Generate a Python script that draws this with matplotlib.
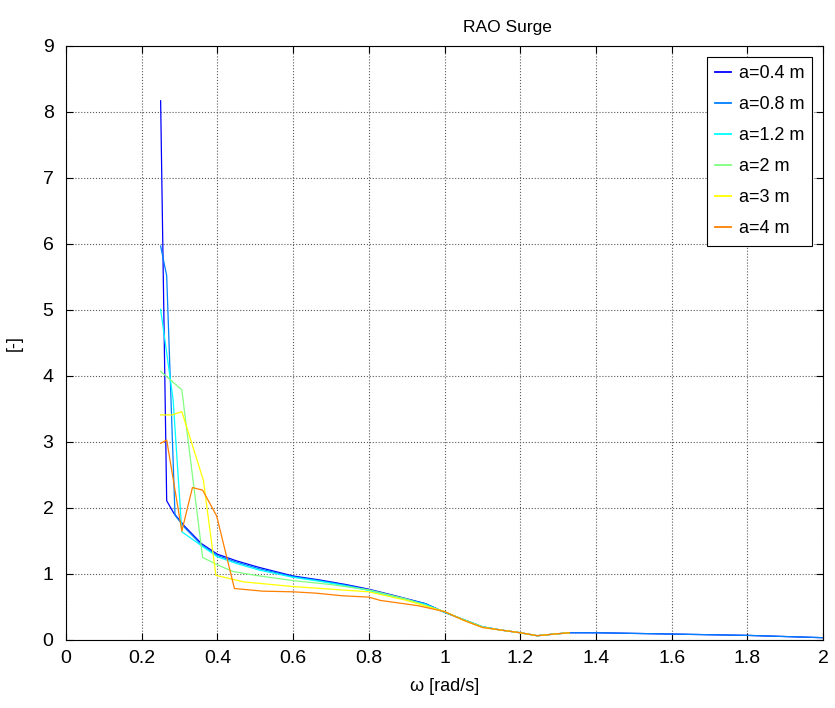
import matplotlib.pyplot as plt

plt.rcParams['font.family'] = ['Liberation Sans', 'DejaVu Sans']

# Datos (omega en rad/s, RAO adimensional)
w_04 = [0.25, 0.266, 0.285, 0.314, 0.358, 0.40, 0.45, 0.51, 0.60, 0.67, 0.74, 0.80, 0.87, 0.95, 1.0,
        1.05, 1.10, 1.15, 1.20, 1.245, 1.29, 1.33, 1.4, 1.6, 1.8, 2.0]
r_04 = [8.17, 2.11, 1.92, 1.72, 1.46, 1.30, 1.20, 1.10, 0.97, 0.91, 0.84, 0.77, 0.67, 0.55, 0.42,
        0.31, 0.20, 0.15, 0.11, 0.065, 0.09, 0.11, 0.11, 0.09, 0.07, 0.035]

w_08 = [0.25, 0.266, 0.288, 0.314, 0.358, 0.40, 0.45, 0.51, 0.60, 0.67, 0.74, 0.80, 0.87, 0.95, 1.0,
        1.05, 1.10, 1.15, 1.20, 1.245, 1.29, 1.33, 1.4, 1.6, 1.8, 2.0]
r_08 = [5.97, 5.52, 1.89, 1.70, 1.44, 1.28, 1.18, 1.08, 0.96, 0.90, 0.83, 0.76, 0.66, 0.55, 0.42,
        0.31, 0.20, 0.15, 0.11, 0.065, 0.09, 0.11, 0.11, 0.09, 0.07, 0.035]

w_12 = [0.25, 0.266, 0.283, 0.306, 0.36, 0.40, 0.45, 0.51, 0.60, 0.67, 0.74, 0.80, 0.87, 0.95, 1.0,
        1.05, 1.10, 1.15, 1.20, 1.245, 1.29, 1.33]
r_12 = [5.01, 4.35, 3.64, 1.64, 1.42, 1.26, 1.16, 1.06, 0.95, 0.89, 0.82, 0.75, 0.65, 0.54, 0.42,
        0.31, 0.20, 0.15, 0.11, 0.065, 0.09, 0.11]

w_2 = [0.25, 0.306, 0.361, 0.40, 0.44, 0.50, 0.60, 0.70, 0.80, 0.90, 1.0,
       1.05, 1.10, 1.15, 1.20, 1.245, 1.29, 1.33]
r_2 = [4.07, 3.79, 1.25, 1.14, 1.04, 0.98, 0.90, 0.84, 0.76, 0.62, 0.43,
       0.31, 0.20, 0.15, 0.11, 0.065, 0.09, 0.11]

w_3 = [0.25, 0.28, 0.306, 0.363, 0.396, 0.47, 0.60, 0.70, 0.80, 0.90, 1.0,
       1.05, 1.10, 1.15, 1.20, 1.245, 1.29, 1.33]
r_3 = [3.41, 3.41, 3.46, 2.42, 0.98, 0.88, 0.81, 0.77, 0.73, 0.60, 0.43,
       0.30, 0.19, 0.15, 0.11, 0.065, 0.09, 0.11]

w_4 = [0.25, 0.266, 0.306, 0.334, 0.361, 0.398, 0.445, 0.52, 0.60, 0.66, 0.73, 0.80, 0.83, 0.93, 1.0,
       1.05, 1.10, 1.15, 1.20, 1.245, 1.29, 1.33]
r_4 = [2.98, 3.03, 1.65, 2.31, 2.27, 1.88, 0.78, 0.74, 0.73, 0.71, 0.67, 0.65, 0.60, 0.52, 0.43,
       0.30, 0.19, 0.15, 0.11, 0.065, 0.09, 0.11]

etiquetas = ['a=0.4 m', 'a=0.8 m', 'a=1.2 m', 'a=2 m', 'a=3 m', 'a=4 m']
# colores tipo jet(8) de MATLAB
colores = [(0, 0, 1), (0, 0.5, 1), (0, 1, 1), (0.5, 1, 0.5), (1, 1, 0), (1, 0.5, 0)]

series = [(w_04, r_04), (w_08, r_08), (w_12, r_12), (w_2, r_2), (w_3, r_3), (w_4, r_4)]

fig = plt.figure(figsize=(8.35, 7.08), dpi=100)
ax = fig.add_axes([66 / 835, 1 - 640 / 708, 757 / 835, 594 / 708])

for (w, r), c, lab in zip(series, colores, etiquetas):
    ax.plot(w, r, color=c, lw=0.9, label=lab)

ax.set_xlim(0, 2)
ax.set_ylim(0, 9)
ax.set_xticks([0, 0.2, 0.4, 0.6, 0.8, 1, 1.2, 1.4, 1.6, 1.8, 2])
ax.set_xticklabels(['0', '0.2', '0.4', '0.6', '0.8', '1', '1.2', '1.4', '1.6', '1.8', '2'])
ax.set_yticks(range(10))
ax.grid(True, linestyle=':', color='0.35', lw=0.8)
ax.tick_params(direction='in', top=True, right=True, labelsize=14, length=5)
ax.tick_params(axis='x', pad=7)
ax.tick_params(axis='y', pad=9)
for s in ax.spines.values():
    s.set_linewidth(0.8)

ax.set_title('RAO Surge', fontsize=12.5, pad=10, x=0.583)
ax.set_xlabel('ω [rad/s]', fontsize=13, labelpad=8)
ax.set_ylabel('[-]', fontsize=13, labelpad=14)

leg = ax.legend(loc='upper right', fontsize=13, handlelength=0.9, labelspacing=0.78,
                fancybox=False, edgecolor='black', framealpha=1, borderpad=0.45,
                borderaxespad=0.6, handletextpad=0.4)
leg.get_frame().set_linewidth(0.8)
for ln in leg.get_lines():
    ln.set_linewidth(1.3)

plt.savefig('out.png', dpi=100)
